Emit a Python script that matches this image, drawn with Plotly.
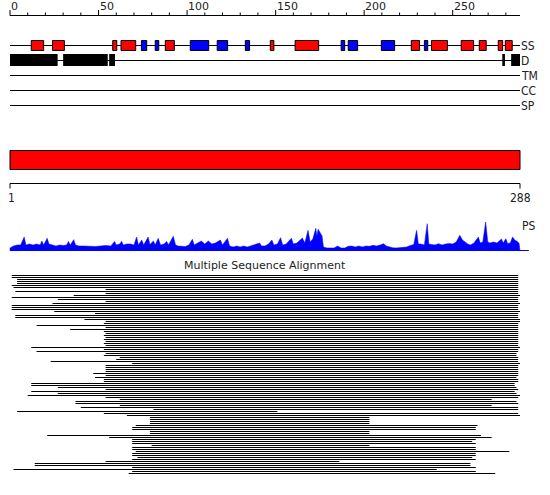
import plotly.graph_objects as go

# sequence / axis
seq_len = 288
major_ticks = [0, 50, 100, 150, 200, 250]
minor_ticks = list(range(0, 290, 10))
track_names = ["SS", "D", "TM", "CC", "SP"]

# secondary structure (residues)
helix_start = [12, 24, 58, 62.7, 87.7, 147, 161, 226.6, 238, 254.8, 265, 275.7, 279.7]
helix_end = [19, 30.7, 60.3, 71, 92.8, 149, 174.3, 231.3, 247, 261.8, 268.9, 278.2, 283.6]
strand_start = [74.2, 82, 101.8, 117, 132.9, 187, 191, 209.7, 234]
strand_end = [77.2, 84, 112.2, 122.9, 135.3, 189, 196.3, 217.2, 235.9]

# disorder
dis_start = [0, 30, 56, 278, 283]
dis_end = [26.9, 55.2, 59.3, 279.5, 288]

# PS profile
ps_res = [0, 2, 4, 6, 8, 9, 11, 13, 15, 17, 18, 19, 21, 22, 24, 26, 28, 30, 32, 33, 34, 36, 37,
          39, 42, 45, 48, 51, 54, 57, 59, 60, 62, 63, 64, 66, 68, 70, 71.5, 72.5, 74.4, 75.5, 78,
          79, 81, 82, 83.7, 85, 87, 88.5, 89.5, 92.2, 93.5, 95, 97, 99, 101, 103, 104, 106, 108,
          110, 112, 114, 116, 118.8, 120, 122.8, 124, 126, 128, 130, 132, 134, 136, 138, 141,
          142, 144, 146, 147.9, 149, 151, 152.8, 154, 156, 158.9, 160, 162, 165.1, 166.5, 168.3,
          169.5, 171, 172.7, 173.3, 174, 176.2, 177, 179, 181, 183, 185, 187, 189, 191, 193, 195,
          197, 199, 201, 203, 205, 207, 209, 211, 212.5, 214, 216, 218, 220, 222, 224, 226, 228,
          229.6, 230.6, 232, 234, 235.6, 236.5, 238, 240, 242, 244, 246, 248, 250, 252, 254,
          255.5, 257, 258.5, 260, 262, 264.5, 265.5, 267, 268.6, 269.8, 271, 273, 275, 277.5,
          278.5, 280, 281, 282.5, 283.8, 285, 286.5, 287.5, 288]
ps_val = [3, 5, 6, 6, 14, 6, 7, 6, 7, 6, 10, 6, 12.7, 7, 6, 5, 6, 5.5, 6, 9.6, 6, 11.3, 6,
          5, 5, 4.7, 4.5, 5, 5.5, 5, 9.6, 6, 7, 9.7, 6, 7, 7, 6, 14, 6, 11, 6, 14,
          6.5, 10, 6, 12.7, 6, 7, 9.5, 6, 14.7, 6, 5, 5, 4.5, 6, 11.7, 6, 8, 10,
          7, 10, 7, 8, 11, 6, 12.7, 5, 4, 5, 4, 5, 4, 5, 6, 8,
          5, 5, 7, 11, 6, 7, 13.3, 6, 7, 12.7, 7, 8, 13, 8, 20.7,
          9, 12, 22.7, 15, 21.7, 15, 4, 3, 2.7, 3, 5, 3, 3, 4.7, 5, 4,
          5, 4, 5, 4.7, 5.7, 5, 6, 7.3, 5, 4, 3.3, 3, 3.3, 3.3, 4, 5.5, 6.5,
          20.7, 7, 7, 6, 27.3, 7, 6.5, 6, 7.3, 6, 7, 7.5, 7, 9, 15.7,
          11, 9, 7, 6, 8, 14, 8, 9, 29, 9, 8, 9, 8, 12,
          8, 12.3, 7.5, 8, 14, 11, 9.5, 7.5, 0]

# multiple sequence alignment rows (residue start / end)
msa_start = [1, 1, 4, 4, 4, 1, 2, 54, 3, 54, 36, 1, 27, 54, 24, 1, 1, 1, 25, 48,
             3, 3, 42, 54, 53, 15, 54, 34, 53, 54, 53, 54, 53, 54, 53, 54, 12, 53, 15, 54,
             53, 62, 60, 23, 69, 54, 54, 54, 54, 47, 54, 48, 53, 53, 12, 12, 27, 54, 12, 27,
             10, 54, 62, 37, 37, 62, 40, 81, 4, 53, 66, 79, 79, 79, 79, 71, 69, 69, 79, 79,
             21, 56, 69, 69, 69, 80, 69, 69, 71, 69, 69, 72, 69, 54, 14, 14, 69, 2, 69, 67]
msa_end = [287, 287, 287, 287, 287, 287, 287, 287, 287, 287, 288, 287, 287, 287, 288, 287, 287, 287, 288, 287,
           287, 287, 288, 288, 287, 287, 287, 287, 287, 287, 287, 287, 287, 287, 287, 287, 288, 287, 287, 286,
           286, 287, 287, 287, 288, 287, 287, 287, 287, 287, 287, 286, 287, 287, 285, 285, 286, 287, 285, 286,
           288, 287, 272, 286, 287, 272, 287, 287, 151, 287, 288, 203, 203, 203, 203, 264, 263, 263, 203, 203,
           266, 272, 263, 261, 263, 203, 263, 263, 282, 263, 263, 261, 263, 186, 260, 260, 263, 241, 263, 274]

# pixel layout
X0, X1 = 10, 520
PXR = (X1 - X0) / seq_len
AXIS_Y = 15.5
TRACK_Y = [45.5, 60.5, 75.5, 90.5, 105.5]
BAR_Y = (150.5, 169.5)
AXIS2_Y = 183.5
PS_BASE = 251
MSA_TOP = 275.5
ROW = 2

FONT = "DejaVu Sans"
FONT_C = "DejaVu Sans Condensed, Liberation Sans Narrow, DejaVu Sans"
TXT = "#222222"

fig = go.Figure()

# top axis line + ticks
xs, ys = [0, seq_len, None], [AXIS_Y, AXIS_Y, None]
for t in minor_ticks:
    top = 10 if t in major_ticks else 12.5
    xs += [t, t, None]
    ys += [top, AXIS_Y, None]
fig.add_trace(go.Scatter(x=xs, y=ys, mode="lines", line=dict(color="black", width=1), hoverinfo="skip"))
for t in major_ticks:
    fig.add_annotation(x=t, y=6, text=str(t), showarrow=False, xanchor="left", yanchor="middle",
                       xshift=-1, font=dict(family=FONT, size=11, color=TXT))

# feature track lines
xs, ys = [], []
for ty in TRACK_Y:
    xs += [0, seq_len, None]
    ys += [ty, ty, None]
fig.add_trace(go.Scatter(x=xs, y=ys, mode="lines", line=dict(color="black", width=1), hoverinfo="skip"))
for name, ty in zip(track_names, TRACK_Y):
    fig.add_annotation(x=seq_len, y=ty, text=name, showarrow=False, xanchor="left", yanchor="middle",
                       xshift=-1, font=dict(family=FONT_C, size=12, color=TXT))

for s, e in zip(helix_start, helix_end):
    fig.add_shape(type="rect", x0=s, x1=e, y0=40.5, y1=50.5, fillcolor="#ff0000",
                  line=dict(color="black", width=1))
for s, e in zip(strand_start, strand_end):
    fig.add_shape(type="rect", x0=s, x1=e, y0=40.5, y1=50.5, fillcolor="#0000ff",
                  line=dict(color="black", width=1))
for s, e in zip(dis_start, dis_end):
    fig.add_shape(type="rect", x0=s, x1=e, y0=54, y1=66, fillcolor="black", line=dict(width=0))

# domain bar
fig.add_shape(type="rect", x0=0, x1=seq_len, y0=BAR_Y[0], y1=BAR_Y[1], fillcolor="#ff0000",
              line=dict(color="black", width=1))

# second axis
fig.add_trace(go.Scatter(x=[0, seq_len, None, 0, 0, None, seq_len, seq_len],
                         y=[AXIS2_Y, AXIS2_Y, None, AXIS2_Y, 188.5, None, AXIS2_Y, 188.5],
                         mode="lines", line=dict(color="black", width=1), hoverinfo="skip"))
for xv, lab in [(0, "1"), (seq_len, str(seq_len))]:
    fig.add_annotation(x=xv, y=198, text=lab, showarrow=False, xanchor="center", yanchor="middle",
                       xshift=1 if xv == 0 else 0, font=dict(family=FONT_C, size=12, color=TXT))

# PS profile
px_ = [0] + ps_res + [seq_len]
py_ = [PS_BASE] + [PS_BASE - v for v in ps_val] + [PS_BASE]
fig.add_trace(go.Scatter(x=px_, y=py_, mode="lines", fill="toself", fillcolor="#0000ff",
                         line=dict(color="#0000ff", width=0.5), hoverinfo="skip"))
fig.add_trace(go.Scatter(x=[0, 293], y=[PS_BASE - 0.5, PS_BASE - 0.5], mode="lines",
                         line=dict(color="#0000ff", width=1), hoverinfo="skip"))
fig.add_annotation(x=seq_len, y=226, text="PS", showarrow=False, xanchor="left", yanchor="middle",
                   xshift=0, font=dict(family=FONT_C, size=12, color=TXT))

# MSA
fig.add_annotation(x=seq_len / 2, y=265.5, text="Multiple Sequence Alignment", showarrow=False,
                   xanchor="center", yanchor="middle", font=dict(family=FONT, size=11, color=TXT))
xs, ys = [], []
for i, (s, e) in enumerate(zip(msa_start, msa_end)):
    yy = MSA_TOP + ROW * i
    xs += [s, e, None]
    ys += [yy, yy, None]
fig.add_trace(go.Scatter(x=xs, y=ys, mode="lines", line=dict(color="black", width=1), hoverinfo="skip"))

fig.update_layout(
    width=550, height=495, margin=dict(l=0, r=0, t=0, b=0),
    paper_bgcolor="white", plot_bgcolor="white", showlegend=False,
    xaxis=dict(range=[-X0 / PXR, (550 - X0) / PXR], visible=False, fixedrange=True),
    yaxis=dict(range=[495, 0], visible=False, fixedrange=True),
)

# page body has a default 8px margin; drop it so pixels line up
fig.write_html("out.html", config={"displayModeBar": False},
               post_script="document.body.style.margin='0px';")
